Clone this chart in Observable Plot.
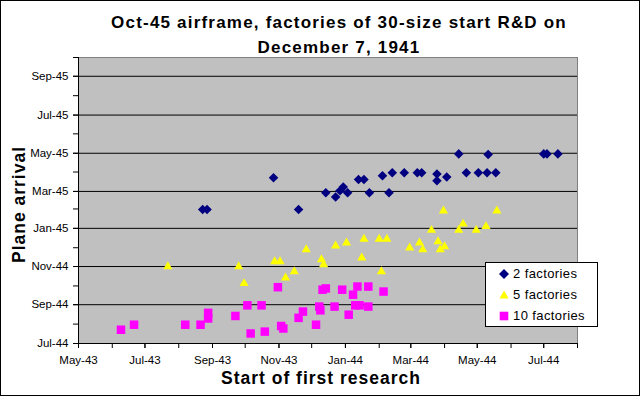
<!DOCTYPE html>
<html><head><meta charset="utf-8">
<script src="https://cdn.jsdelivr.net/npm/d3@7"></script>
<script src="https://cdn.jsdelivr.net/npm/@observablehq/plot@0.6"></script>
<style>
body{margin:0;background:#fff;}
#chart{position:relative;width:640px;height:396px;overflow:hidden;font-family:"Liberation Sans",Arial,sans-serif;background:#fff;}
#border{position:absolute;left:0;top:0;width:638px;height:394px;border:1px solid #000;pointer-events:none;}
#legend{position:absolute;left:485px;top:262px;width:111px;height:63px;border:1px solid #000;background:#fff;font-size:13px;letter-spacing:0.4px;}
#legend .row{position:absolute;left:12px;height:16px;line-height:16px;display:flex;align-items:center;}
#legend svg{width:12px;height:12px;margin-right:3px;}
</style>
</head><body>
<div id="chart"></div>
<script>
// ---- data ----
const titleText = "Oct-45 airframe, factories of 30-size start R&D on\nDecember 7, 1941";
const xTitle = "Start of first research";
const yTitle = "Plane arrival";
const seriesNames = ["2 factories", "5 factories", "10 factories"];

const twoStart = ["1943-08-23","1943-08-27","1943-10-27","1943-11-19","1943-12-14","1943-12-23","1943-12-27","1943-12-30","1944-01-03","1944-01-13","1944-01-18","1944-01-23","1944-02-04","1944-02-10","1944-02-13","1944-02-24","1944-03-07","1944-03-11","1944-03-25","1944-03-25","1944-04-03","1944-04-14","1944-04-21","1944-05-02","1944-05-10","1944-05-11","1944-05-18","1944-07-01","1944-07-04","1944-07-14"];
const twoArrival = ["1945-01-31","1945-01-31","1945-03-23","1945-01-31","1945-02-27","1945-02-20","1945-03-02","1945-03-08","1945-02-27","1945-03-20","1945-03-20","1945-02-27","1945-03-26","1945-02-27","1945-03-31","1945-03-31","1945-03-31","1945-03-31","1945-03-29","1945-03-18","1945-03-24","1945-04-30","1945-03-31","1945-03-31","1945-03-31","1945-04-29","1945-03-31","1945-04-30","1945-04-30","1945-04-30"];

const fiveStart = ["1943-07-22","1943-09-25","1943-09-30","1943-10-28","1943-11-02","1943-11-07","1943-11-15","1943-11-26","1943-12-10","1943-12-12","1943-12-23","1944-01-02","1944-01-16","1944-01-18","1944-02-01","1944-02-08","1944-02-03","1944-02-29","1944-03-09","1944-03-12","1944-03-20","1944-03-26","1944-03-28","1944-04-01","1944-03-31","1944-04-14","1944-04-18","1944-04-30","1944-05-09","1944-05-19"];
const fiveArrival = ["1944-11-01","1944-11-01","1944-10-05","1944-11-09","1944-11-09","1944-10-14","1944-10-24","1944-11-28","1944-11-12","1944-11-04","1944-12-04","1944-12-09","1944-11-15","1944-12-15","1944-12-15","1944-12-15","1944-10-24","1944-12-01","1944-12-09","1944-11-28","1944-12-29","1944-12-11","1944-11-28","1944-12-03","1945-01-29","1944-12-29","1945-01-08","1944-12-29","1945-01-04","1945-01-29"];

const tenStart = ["1943-06-09","1943-06-21","1943-08-07","1943-08-21","1943-08-28","1943-08-28","1943-09-22","1943-10-03","1943-10-06","1943-10-16","1943-10-19","1943-10-31","1943-11-03","1943-11-05","1943-11-19","1943-11-23","1943-12-05","1943-12-08","1943-12-09","1943-12-11","1943-12-14","1943-12-22","1943-12-29","1944-01-04","1944-01-08","1944-01-12","1944-01-10","1944-01-14","1944-01-22","1944-01-22","1944-02-05"];
const tenArrival = ["1944-07-23","1944-07-31","1944-07-31","1944-07-31","1944-08-19","1944-08-10","1944-08-14","1944-08-31","1944-07-17","1944-08-31","1944-07-20","1944-09-29","1944-07-29","1944-07-25","1944-08-11","1944-08-21","1944-07-31","1944-08-29","1944-08-23","1944-09-25","1944-09-27","1944-08-29","1944-09-25","1944-08-16","1944-09-17","1944-09-30","1944-08-31","1944-08-31","1944-09-30","1944-08-29","1944-09-22"];

const xTickLabels = ["1943-05-01","1943-07-01","1943-09-01","1943-11-01","1944-01-01","1944-03-01","1944-05-01","1944-07-01"];
const xDomainDates = ["1943-05-01","1944-08-01"];
const yTickLabels = ["1944-07-01","1944-09-01","1944-11-01","1945-01-01","1945-03-01","1945-05-01","1945-07-01","1945-09-01"];
const yDomainDates = ["1944-07-01","1945-10-01"];

// ---- build ----
const parse = d3.utcParse("%Y-%m-%d");
const fmt = d3.utcFormat("%b-%y");
const xDomain = xDomainDates.map(parse);
const yDomain = yDomainDates.map(parse);
const xTicks = xTickLabels.map(parse);
const yTicks = yTickLabels.map(parse);
const xMinor = d3.utcMonth.range(xDomain[0], d3.utcDay.offset(xDomain[1], 1));
const yMinor = d3.utcMonth.range(yDomain[0], d3.utcDay.offset(yDomain[1], 1));

const mk = (s, a, name) => s.map((d, i) => ({series: name, start: parse(d), arrival: parse(a[i])}));
const two = mk(twoStart, twoArrival, seriesNames[0]);
const five = mk(fiveStart, fiveArrival, seriesNames[1]);
const ten = mk(tenStart, tenArrival, seriesNames[2]);

const chart = Plot.plot({
  width: 640, height: 396,
  marginLeft: 78, marginRight: 63, marginTop: 57, marginBottom: 53,
  style: {fontFamily: "'Liberation Sans', Arial, sans-serif", fontSize: "11.5px", background: "transparent", color: "#000"},
  x: {type: "utc", domain: xDomain},
  y: {type: "utc", domain: yDomain},
  marks: [
    Plot.frame({fill: "#c0c0c0", stroke: "#808080"}),
    Plot.gridY(yTicks, {stroke: "#000", strokeOpacity: 1, strokeWidth: 1}),
    Plot.ruleX([xDomain[0]], {stroke: "#000"}),
    Plot.ruleY([yDomain[0]], {stroke: "#000"}),
    Plot.dot(two, {x: "start", y: "arrival", symbol: "diamond2", fill: "#000080", stroke: "none", r: 4.3}),
    Plot.dot(five, {x: "start", y: "arrival", symbol: "triangle", fill: "#ffff00", stroke: "none", r: 3.4}),
    Plot.dot(ten, {x: "start", y: "arrival", symbol: "square", fill: "#ff00ff", stroke: "none", r: 4.8}),
    Plot.axisX(xMinor, {tickFormat: () => "", tickSize: 5, label: null}),
    Plot.axisX(xTicks, {tickFormat: fmt, tickSize: 5, tickPadding: 7, label: null}),
    Plot.axisY(yMinor, {tickFormat: () => "", tickSize: 5, label: null}),
    Plot.axisY(yTicks, {tickFormat: fmt, tickSize: 5, tickPadding: 5, label: null}),
    Plot.text([titleText], {frameAnchor: "top", textAnchor: "middle", lineAnchor: "middle", dy: -25, dx: 11, fontSize: 17, fontWeight: "bold", lineHeight: 1.45}),
    Plot.text([xTitle], {frameAnchor: "bottom", textAnchor: "middle", lineAnchor: "middle", dy: 35, dx: -7, fontSize: 17.5, fontWeight: "bold"}),
    Plot.text([yTitle], {frameAnchor: "left", textAnchor: "middle", lineAnchor: "middle", rotate: -90, dx: -59, dy: 4, fontSize: 17.5, fontWeight: "bold"})
  ]
});

// wider letter spacing like the original rendering
chart.querySelectorAll("text").forEach(t => {
  const s = t.textContent;
  if (s.startsWith("Oct-45 airframe")) t.style.letterSpacing = "1.2px";
  else if (s === xTitle || s === yTitle) t.style.letterSpacing = "1px";
});

const root = document.getElementById("chart");
root.appendChild(chart);

// legend
const legend = document.createElement("div");
legend.id = "legend";
const symbolsSvg = [
  '<svg viewBox="-6 -6 12 12"><path d="M0,-5L5,0L0,5L-5,0Z" fill="#000080"/></svg>',
  '<svg viewBox="-6 -6 12 12"><path d="M0,-4.5L4.5,3.5L-4.5,3.5Z" fill="#ffff00"/></svg>',
  '<svg viewBox="-6 -6 12 12"><rect x="-4.3" y="-4.3" width="8.6" height="8.6" fill="#ff00ff"/></svg>'
];
seriesNames.forEach((name, i) => {
  const row = document.createElement("div");
  row.className = "row";
  row.style.top = (3 + i * 21) + "px";
  row.innerHTML = symbolsSvg[i] + "<span>" + name + "</span>";
  legend.appendChild(row);
});
root.appendChild(legend);
const border = document.createElement("div");
border.id = "border";
root.appendChild(border);
</script>
</body></html>
